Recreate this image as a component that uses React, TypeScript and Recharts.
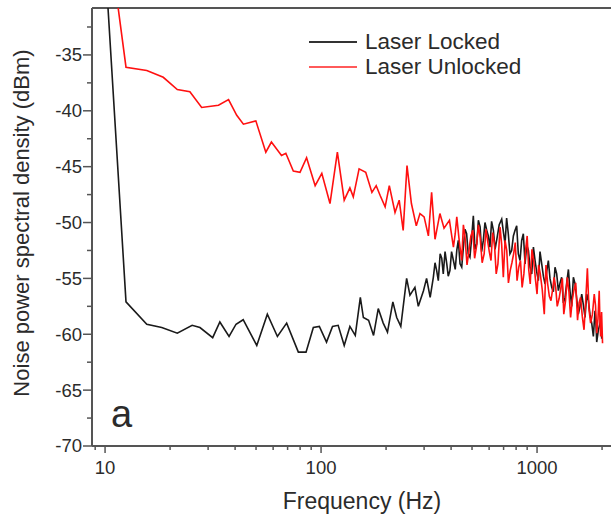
import { LineChart, Line, XAxis, YAxis, ReferenceLine, Legend } from "recharts"

// [frequency Hz, noise dBm] for the locked laser
const lockedSpectrum: [number, number][] = [
  [9.4, -18], [12.5, -57.1], [15.6, -59.1], [18.3, -59.4], [21.6, -59.9], [25.3, -59.2], [27.5, -59.4], [31.5, -60.3],
  [34, -58.9], [37.5, -60.2], [40.4, -59.1], [43.6, -58.7], [50.4, -61], [56.4, -58.2], [62.8, -60.2], [69.3, -59],
  [78.5, -61.6], [85.2, -61.6], [92.1, -59.4], [98.2, -59.3], [106, -60.7], [113, -59.3], [120, -59.2], [128, -61],
  [136, -59.3], [144, -60.1], [152, -56.7], [157, -58.5], [166, -58.75], [175, -60.1], [184, -57.7], [194, -59],
  [203, -59.8], [215, -57.1], [224, -58.5], [234, -59.3], [249, -55], [258, -56.5], [272, -55.8], [282, -57.5],
  [298, -56.1], [308, -55], [320, -56.7], [331, -54.9], [337, -53.6], [343, -54.3], [349, -55.2], [356, -52.8],
  [362, -53.2], [368, -54.6], [375, -52.6], [382, -53.7], [388, -54.8], [395, -54.3], [402, -52.6], [410, -53.4],
  [418, -54.2], [425, -52.5], [432, -51.6], [440, -53.7], [448, -54], [456, -52.2], [464, -50.6], [472, -51],
  [480, -52.8], [489, -53.1], [498, -51.4], [507, -49.4], [516, -52.4], [526, -51.9], [535, -49.8], [545, -50.4],
  [554, -52.6], [564, -51.6], [574, -50], [585, -50.7], [595, -51.2], [605, -52.2], [616, -49.9], [628, -50.7],
  [639, -52.4], [650, -51.6], [668, -50.2], [686, -49.7], [698, -50.8], [711, -51.9], [723, -49.6], [736, -51],
  [749, -52.8], [763, -52.5], [777, -51.2], [791, -50.7], [805, -50.3], [819, -52.8], [834, -53.4], [849, -51.6],
  [864, -51], [880, -53.7], [896, -52], [912, -52.5], [928, -54], [945, -54.6], [962, -52.2], [979, -53.4],
  [996, -54.4], [1014, -55.2], [1032, -52.6], [1051, -53.7], [1070, -54.8], [1089, -55.5], [1108, -54.4], [1128, -53.4],
  [1148, -55], [1169, -55.8], [1190, -56.2], [1211, -54], [1233, -54.6], [1255, -56.1], [1278, -55.4], [1300, -54.9],
  [1324, -57.2], [1348, -56.7], [1372, -55.4], [1397, -54.2], [1422, -56.2], [1447, -57.5], [1473, -54.9], [1500, -55.5],
  [1526, -56.8], [1553, -58.2], [1581, -57.5], [1610, -56.4], [1639, -57.4], [1668, -58.5], [1698, -56.4], [1729, -57],
  [1760, -58.3], [1791, -59], [1823, -60.2], [1855, -57.9], [1872, -58.8], [1889, -60.7], [1923, -59.6], [1958, -59],
  [1975, -58.6], [1992, -60.4],
]

// [frequency Hz, noise dBm] for the free-running laser
const unlockedSpectrum: [number, number][] = [
  [9.4, -18], [12.5, -36.1], [15.6, -36.4], [18.6, -37], [21.6, -38.1], [24.7, -38.3], [28, -39.7], [33.5, -39.5],
  [37.3, -39], [40.7, -40.4], [43.7, -41.2], [49.9, -40.9], [55.5, -43.7], [58.9, -42.8], [65.6, -44], [68.7, -43.8],
  [74.4, -45.4], [79.9, -45.5], [85.7, -44.2], [93.9, -46.7], [100.8, -45.6], [110, -48.3], [119, -43.7], [128, -48],
  [136, -46.9], [141, -47.7], [150, -45.2], [161, -45.5], [172, -47.3], [180, -46.7], [188, -47.6], [198, -48.6],
  [207, -46.7], [220, -49.1], [230, -48], [240, -50.7], [250, -44.9], [262, -48.3], [276, -50.3], [287, -49.2],
  [300, -49.5], [314, -51.2], [325, -47.3], [337, -51.5], [355, -49.2], [371, -50.5], [393, -49.8], [410, -52.2],
  [418, -51], [425, -49.5], [436, -51.6], [448, -53.4], [456, -50.2], [464, -51.3], [474, -53.8], [484, -52.5],
  [494, -51.2], [504, -50.7], [514, -53.2], [525, -52.1], [535, -50.2], [545, -51.3], [557, -53.6], [569, -52.8],
  [580, -50.6], [590, -51.6], [601, -52.6], [612, -53.4], [623, -50.9], [635, -51.9], [647, -54.6], [659, -53.7],
  [666, -52.2], [674, -50.4], [686, -52], [698, -54.9], [711, -51.6], [724, -52.5], [737, -55.4], [751, -54.3],
  [765, -53.6], [779, -52.8], [793, -51.8], [808, -55.2], [823, -54], [838, -53.4], [853, -55.8], [869, -54.6],
  [884, -52.6], [900, -51.2], [915, -54.2], [930, -55.5], [947, -52.4], [965, -53.4], [982, -55], [1000, -56.4],
  [1017, -53.8], [1035, -54.6], [1057, -56], [1080, -58.2], [1100, -53.8], [1120, -55.5], [1140, -56.6], [1160, -57],
  [1180, -56], [1200, -54.9], [1220, -55.8], [1240, -57.5], [1265, -56.8], [1290, -55.8], [1310, -55], [1330, -58.2],
  [1355, -57], [1380, -54.9], [1405, -56.2], [1430, -58.5], [1455, -57], [1480, -56.1], [1510, -55.4], [1540, -58.75],
  [1565, -57.2], [1590, -56.7], [1620, -58.4], [1650, -59.6], [1680, -57], [1710, -54.1], [1740, -57.8], [1770, -59],
  [1805, -58.2], [1840, -56.4], [1865, -57.4], [1890, -59.9], [1915, -58.6], [1940, -56.1], [1955, -58.8], [1970, -60.2],
  [1990, -58], [2010, -60.8],
]

const freqTicks = [9, 10, 20, 30, 40, 50, 60, 70, 80, 90, 100, 200, 300, 400, 500, 600, 700, 800, 900, 1000, 2000]
const freqLabels = [10, 100, 1000]
const dbmTicks = [-70, -67.5, -65, -62.5, -60, -57.5, -55, -52.5, -50, -47.5, -45, -42.5, -40, -37.5, -35, -32.5]
const dbmLabels = [-70, -65, -60, -55, -50, -45, -40, -35]

const FREQ_MIN = 8.7
const FREQ_MAX = 2500
const DBM_MIN = -70
const DBM_MAX = -30.8

const lockedData = lockedSpectrum.map(([f, v]) => ({ f, v }))
const unlockedData = unlockedSpectrum.map(([f, v]) => ({ f, v }))

const AXIS = "#555"
const TEXT = "#2b2b2b"
const FONT = "'Liberation Sans', Arial, sans-serif"

function FreqTick({ x, y, payload }: any) {
  const major = freqLabels.includes(payload.value)
  return (
    <g>
      <line x1={x} x2={x} y1={y} y2={y + (major ? 7 : 4)} stroke={AXIS} strokeWidth={1.5} />
      {major && (
        <text x={x} y={y + 22} dy="0.35em" textAnchor="middle" fontSize={18.5} fill={TEXT} fontFamily={FONT}>
          {payload.value}
        </text>
      )}
    </g>
  )
}

function DbmTick({ x, y, payload }: any) {
  const major = dbmLabels.includes(payload.value)
  return (
    <g>
      <line x1={x} x2={x - (major ? 9 : 5)} y1={y} y2={y} stroke={AXIS} strokeWidth={1.5} />
      {major && (
        <text x={x - 10} y={y} dy="0.35em" textAnchor="end" fontSize={18.5} fill={TEXT} fontFamily={FONT}>
          {payload.value}
        </text>
      )}
    </g>
  )
}

function LegendBox() {
  const rows = [
    { name: "Laser Locked", color: "#333" },
    { name: "Laser Unlocked", color: "#ff5a5a" },
  ]
  return (
    <svg width={260} height={60}>
      {rows.map((r, i) => (
        <g key={r.name}>
          <line x1={9} x2={57} y1={22 + i * 25} y2={22 + i * 25} stroke={r.color} strokeWidth={2} />
          <text x={65} y={28.5 + i * 25} fontSize={22.5} fill={TEXT} fontFamily={FONT}>
            {r.name}
          </text>
        </g>
      ))}
    </svg>
  )
}

export default function App() {
  return (
    <div style={{ position: "absolute", left: 0, top: 0, width: 611, height: 516, overflow: "hidden", background: "#fff" }}>
      <LineChart width={640} height={516} margin={{ top: 8, right: 17, bottom: 0, left: 0 }}>
        <XAxis
          dataKey="f"
          type="number"
          scale="log"
          domain={[FREQ_MIN, FREQ_MAX]}
          allowDataOverflow
          ticks={freqTicks}
          interval={0}
          height={70}
          tickSize={0}
          tickMargin={0}
          tickLine={false}
          tick={<FreqTick />}
          axisLine={{ stroke: AXIS, strokeWidth: 2 }}
          label={{
            content: () => (
              <text x={362} y={509} textAnchor="middle" fontSize={23} fill={TEXT} fontFamily={FONT}>
                Frequency (Hz)
              </text>
            ),
          }}
        />
        <YAxis
          type="number"
          domain={[DBM_MIN, DBM_MAX]}
          allowDataOverflow
          ticks={dbmTicks}
          interval={0}
          width={92}
          tickSize={0}
          tickMargin={0}
          tickLine={false}
          tick={<DbmTick />}
          axisLine={{ stroke: AXIS, strokeWidth: 2 }}
          label={{
            content: () => (
              <text x={29} y={223} transform="rotate(-90 29 223)" textAnchor="middle" fontSize={22} fill={TEXT} fontFamily={FONT}>
                Noise power spectral density (dBm)
              </text>
            ),
          }}
        />
        <ReferenceLine y={DBM_MAX} stroke={AXIS} strokeWidth={2} />
        <Legend
          layout="vertical"
          align="center"
          verticalAlign="middle"
          content={() => <LegendBox />}
          wrapperStyle={{ top: 20, left: 300, width: 260, height: 60 }}
        />
        <Line
          data={lockedData}
          dataKey="v"
          name="Laser Locked"
          stroke="#1a1a1a"
          strokeWidth={1.6}
          dot={false}
          isAnimationActive={false}
        />
        <Line
          data={unlockedData}
          dataKey="v"
          name="Laser Unlocked"
          stroke="#ff1010"
          strokeWidth={1.6}
          dot={false}
          isAnimationActive={false}
        />
      </LineChart>
      <svg width={611} height={516} style={{ position: "absolute", left: 0, top: 0, pointerEvents: "none" }}>
        <text x={111} y={427} fontSize={38} fill={TEXT} fontFamily={FONT}>
          a
        </text>
      </svg>
    </div>
  )
}
